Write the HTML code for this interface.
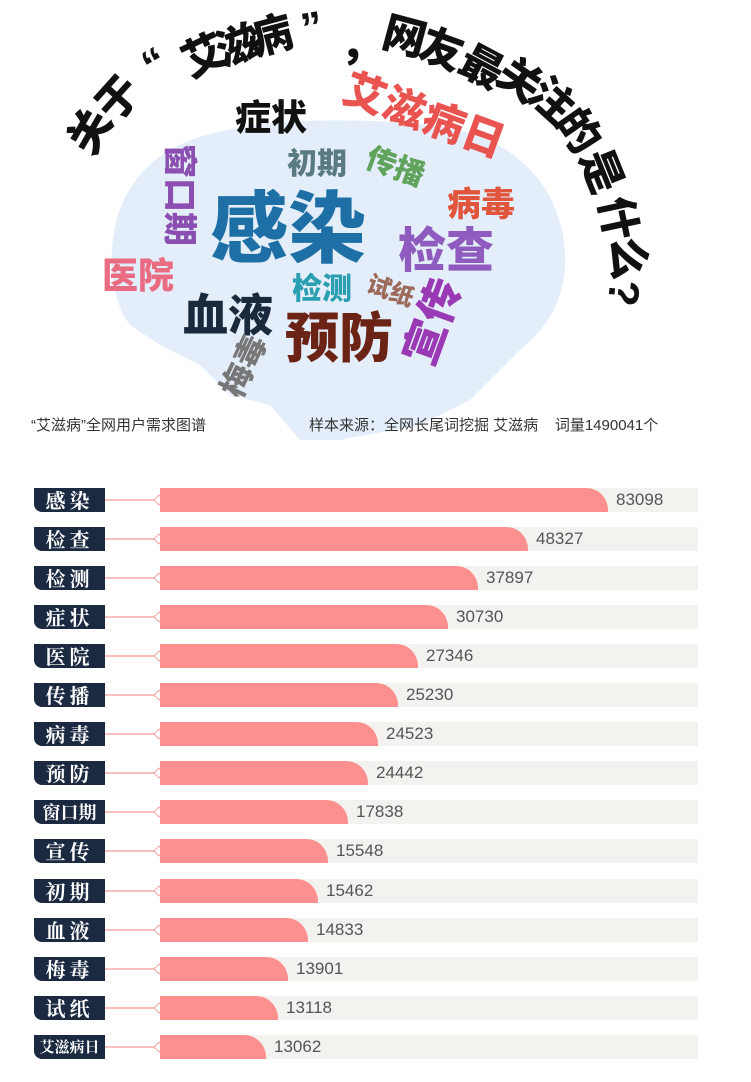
<!DOCTYPE html>
<html><head><meta charset="utf-8">
<style>
body{margin:0;width:751px;height:1082px;background:#fff;position:relative;overflow:hidden;font-family:"Liberation Sans","Noto Sans CJK SC",sans-serif}
.a{position:absolute;white-space:nowrap;line-height:1}
.t{position:absolute;width:40px;height:40px;text-align:center;font-size:43px;font-weight:900;color:#111;line-height:40px;transform-origin:center}
.w{position:absolute;font-weight:900;line-height:1;white-space:nowrap;transform-origin:center}
.lab{position:absolute;left:34px;width:71px;height:24px;background:#1b2a41;border-radius:0 0 0 8px;color:#fff;font-family:"Noto Serif CJK SC",serif;font-size:20px;font-weight:bold;text-align:center;line-height:24px;letter-spacing:4px}
.ln{position:absolute;left:105px;width:54px;height:2px;background:#f9c0c0}
.dm{position:absolute;left:155px;width:6px;height:6px;border:1px solid #f9a0a0;background:#fff;transform:rotate(45deg)}
.bg{position:absolute;left:160px;width:538px;height:24px;background:#f3f2ef}
.br{position:absolute;left:160px;height:24px;background:#fe8f8f;border-radius:0 22px 0 0}
.v{position:absolute;font-size:17px;color:#555;line-height:24px}
</style></head><body>
<svg style="position:absolute;left:0;top:0" width="751" height="440">
<path d="M170,150 C220,120 330,115 430,125 C520,135 560,190 565,250 C568,300 545,330 520,350 L470,400 L420,425 L340,440 L300,440 L270,405 L230,395 L200,365 L160,345 L130,325 C108,295 108,250 118,215 C128,185 145,165 170,150 Z" fill="#e4eefa"/>
</svg>
<div class="t" style="left:70px;top:113px;transform:rotate(-60deg)">关</div>
<div class="t" style="left:98px;top:80px;transform:rotate(-48deg)">于</div>
<div class="t" style="left:135px;top:44px;transform:rotate(-30deg)">“</div>
<div class="t" style="left:183px;top:37px;transform:rotate(-25deg)">艾</div>
<div class="t" style="left:217px;top:27px;transform:rotate(-20deg)">滋</div>
<div class="t" style="left:250px;top:17px;transform:rotate(-15deg)">病</div>
<div class="t" style="left:292px;top:8px;transform:rotate(-10deg)">”</div>
<div class="t" style="left:340px;top:25px;">，</div>
<div class="t" style="left:383px;top:17px;transform:rotate(15deg)">网</div>
<div class="t" style="left:420px;top:30px;transform:rotate(20deg)">友</div>
<div class="t" style="left:460px;top:47px;transform:rotate(28deg)">最</div>
<div class="t" style="left:498px;top:60px;transform:rotate(35deg)">关</div>
<div class="t" style="left:530px;top:80px;transform:rotate(42deg)">注</div>
<div class="t" style="left:557px;top:110px;transform:rotate(55deg)">的</div>
<div class="t" style="left:580px;top:150px;transform:rotate(68deg)">是</div>
<div class="t" style="left:597px;top:197px;transform:rotate(78deg)">什</div>
<div class="t" style="left:607px;top:237px;transform:rotate(88deg)">么</div>
<div class="t" style="left:603px;top:273px;transform:rotate(95deg)">?</div>

<div class="w" style="left:235px;top:100px;font-size:36px;color:#111">症状</div>
<div class="w" style="left:340px;top:95px;font-size:42px;color:#e95451;transform:rotate(20deg)">艾滋病日</div>
<div class="w" style="left:287px;top:150px;font-size:30px;color:#5a7a82">初期</div>
<div class="w" style="left:365px;top:153px;font-size:30px;color:#5fa35c;transform:rotate(20deg)">传播</div>
<div class="w" style="left:447px;top:188px;font-size:34px;color:#e1553c">病毒</div>
<div class="w" style="left:128px;top:178px;font-size:34px;color:#8a4fb0;transform:rotate(90deg)">窗口期</div>
<div class="w" style="left:210px;top:190px;font-size:78px;color:#1d6fa5">感染</div>
<div class="w" style="left:398px;top:228px;font-size:48px;color:#8f5bbf">检查</div>
<div class="w" style="left:102px;top:258px;font-size:36px;color:#ea6c82">医院</div>
<div class="w" style="left:292px;top:275px;font-size:30px;color:#2a9fb1">检测</div>
<div class="w" style="left:366px;top:280px;font-size:24px;color:#9c6a58;transform:rotate(20deg)">试纸</div>
<div class="w" style="left:183px;top:293px;font-size:45px;color:#1a2a3c">血液</div>
<div class="w" style="left:285px;top:312px;font-size:54px;color:#6b2316">预防</div>
<div class="w" style="left:390px;top:300px;font-size:44px;color:#9a39b4;transform:rotate(-70deg)">宣传</div>
<div class="w" style="left:212px;top:350px;font-size:32px;color:#777;transform:rotate(-65deg)">梅毒</div>

<div class="a" style="left:31px;top:418px;font-size:15px;color:#333">“艾滋病”全网用户需求图谱</div>
<div class="a" style="left:309px;top:418px;font-size:15px;color:#333">样本来源：全网长尾词挖掘 艾滋病&nbsp;&nbsp;&nbsp;&nbsp;词量1490041个</div>

<div id="rows"></div>
<script>
var d=[["感染",83098,608],["检查",48327,528],["检测",37897,478],["症状",30730,448],["医院",27346,418],["传播",25230,398],["病毒",24523,378],["预防",24442,368],["窗口期",17838,348],["宣传",15548,328],["初期",15462,318],["血液",14833,308],["梅毒",13901,288],["试纸",13118,278],["艾滋病日",13062,266]];
var h="";
d.forEach(function(r,i){var y=488+i*39.05;
var fs=r[0].length==3?"font-size:18px;letter-spacing:0":(r[0].length==4?"font-size:15px;letter-spacing:0":"");
h+='<div class="lab" style="top:'+y+'px;'+fs+'">'+r[0]+'</div>';
h+='<div class="ln" style="top:'+(y+11)+'px"></div>';
h+='<div class="bg" style="top:'+y+'px"></div>';
h+='<div class="dm" style="top:'+(y+8)+'px"></div>';
h+='<div class="br" style="top:'+y+'px;width:'+(r[2]-160)+'px"></div>';
h+='<div class="v" style="top:'+y+'px;left:'+(r[2]+8)+'px">'+r[1]+'</div>';});
document.getElementById("rows").innerHTML=h;
</script>
</body></html>
